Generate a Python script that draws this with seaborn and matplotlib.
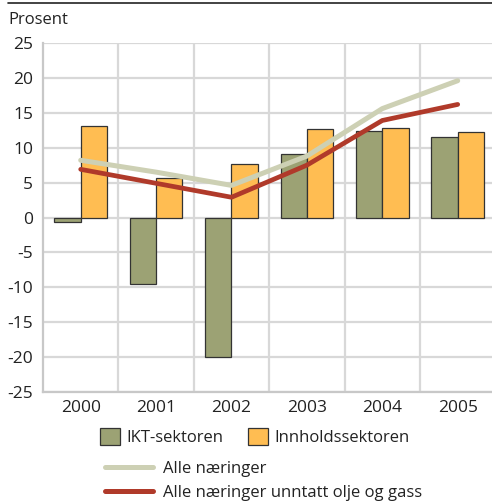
import numpy as np
import pandas as pd
import matplotlib
matplotlib.use("Agg")
import matplotlib.pyplot as plt
import seaborn as sns
from matplotlib.patches import Patch
from matplotlib.lines import Line2D

sns.set_style("white")
plt.rcParams['font.family'] = ['Open Sans', 'DejaVu Sans']
plt.rcParams['axes.unicode_minus'] = False

# data
years = ["2000", "2001", "2002", "2003", "2004", "2005"]
ikt = [-0.6, -9.5, -20.0, 9.1, 12.4, 11.5]
innhold = [13.1, 5.7, 7.7, 12.7, 12.8, 12.3]
alle = [8.2, 6.5, 4.6, 8.8, 15.6, 19.6]
alle_uten_olje = [6.9, 4.9, 2.9, 7.5, 13.9, 16.2]

bar_names = ["IKT-sektoren", "Innholdssektoren"]
line_names = ["Alle næringer", "Alle næringer unntatt olje og gass"]
bar_colors = ["#9ca274", "#ffbd52"]
line_colors = ["#cdd0b4", "#b03a2a"]

df = pd.DataFrame({"year": years * 2,
                   "sektor": [bar_names[0]] * 6 + [bar_names[1]] * 6,
                   "value": ikt + innhold})

fig = plt.figure(figsize=(4.92, 5.04), dpi=100)
ax = fig.add_axes([43 / 492, 1 - 392 / 504, 449 / 492, 349 / 504])

sns.barplot(data=df, x="year", y="value", hue="sektor", palette=bar_colors,
            width=0.7, edgecolor="#333333", linewidth=0.9, saturation=1,
            legend=False, ax=ax, zorder=3)

pos = np.arange(len(years))
sns.lineplot(x=pos, y=alle, color=line_colors[0], linewidth=3.6, ax=ax, zorder=4)
sns.lineplot(x=pos, y=alle_uten_olje, color=line_colors[1], linewidth=3.4, ax=ax, zorder=5)

ax.set_xlim(-0.5, 5.455)
ax.set_ylim(-25, 25)
ax.set_yticks(np.arange(-25, 26, 5))
ax.set_xticks(np.arange(0.5, 5.5, 1), minor=True)
ax.grid(True, which="minor", axis="x", color="#d8d8d8", linewidth=1.6, zorder=0)
ax.grid(True, which="major", axis="y", color="#d8d8d8", linewidth=1.6, zorder=0)
ax.set_xlabel("")
ax.set_ylabel("")
for s in ["top", "right"]:
    ax.spines[s].set_visible(False)
for s in ["left", "bottom"]:
    ax.spines[s].set_color("#c8c8c8")
    ax.spines[s].set_linewidth(1.6)
ax.tick_params(axis="both", which="both", length=0, labelsize=12.5, colors="#222222")
ax.tick_params(axis="y", pad=7)
ax.tick_params(axis="x", pad=6)

fig.text(8 / 492, 1 - 20 / 504, "Prosent", fontsize=12, color="#222222", va="center")
fig.add_artist(Line2D([8 / 492, 1], [1 - 3 / 504, 1 - 3 / 504], color="#222222", linewidth=1.2))

bar_handles = [Patch(facecolor=c, edgecolor="#333333", linewidth=0.9) for c in bar_colors]
leg1 = fig.legend(bar_handles, bar_names, loc="center left",
                  bbox_to_anchor=(100 / 492, 1 - 437 / 504), ncol=2, frameon=False,
                  fontsize=12, handlelength=1.2, handleheight=1.2, handletextpad=0.4,
                  columnspacing=1.45, borderpad=0, borderaxespad=0)

line_handles = [Line2D([0], [0], color=c, linewidth=3.6) for c in line_colors]
leg2 = fig.legend(line_handles, line_names, loc="center left",
                  bbox_to_anchor=(105 / 492, 1 - 481 / 504), ncol=1, frameon=False,
                  fontsize=12, handlelength=2.9, handletextpad=0.6,
                  labelspacing=0.45, borderpad=0, borderaxespad=0)
for t in list(leg1.get_texts()) + list(leg2.get_texts()):
    t.set_color("#222222")

fig.savefig("out.png", dpi=100)
